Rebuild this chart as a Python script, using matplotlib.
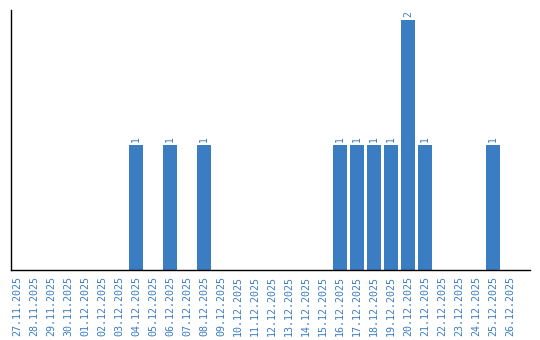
import matplotlib
matplotlib.use("Agg")
import matplotlib.pyplot as plt

dates = ["27.11.2025", "28.11.2025", "29.11.2025", "30.11.2025", "01.12.2025",
         "02.12.2025", "03.12.2025", "04.12.2025", "05.12.2025", "06.12.2025",
         "07.12.2025", "08.12.2025", "09.12.2025", "10.12.2025", "11.12.2025",
         "12.12.2025", "13.12.2025", "14.12.2025", "15.12.2025", "16.12.2025",
         "17.12.2025", "18.12.2025", "19.12.2025", "20.12.2025", "21.12.2025",
         "22.12.2025", "23.12.2025", "24.12.2025", "25.12.2025", "26.12.2025"]
values = [0, 0, 0, 0, 0, 0, 0, 1, 0, 1,
          0, 1, 0, 0, 0, 0, 0, 0, 0, 1,
          1, 1, 1, 2, 1, 0, 0, 0, 1, 0]

color = "#3a7dc2"
fig = plt.figure(figsize=(5.4, 3.4), dpi=100)
ax = fig.add_axes([0.0204, 0.2059, 0.9611, 0.7647])
x = list(range(len(dates)))
bars = ax.bar(x, values, width=0.82, color=color)
for xi, v in zip(x, values):
    if v > 0:
        ax.text(xi, v + 0.02, str(v), rotation=90, ha="center", va="bottom",
                color=color, fontsize=7, family="DejaVu Sans Mono")
ax.set_xlim(-0.35, 30.18)
ax.set_ylim(0, 2.08)
ax.set_xticks(x)
ax.set_xticklabels(dates, rotation=90, color=color, fontsize=7.2, family="DejaVu Sans Mono")
ax.tick_params(axis="x", length=0, pad=4)
ax.set_yticks([])
ax.spines["top"].set_visible(False)
ax.spines["right"].set_visible(False)
ax.spines["left"].set_linewidth(1.0)
ax.spines["bottom"].set_linewidth(1.0)
fig.savefig("out.png", dpi=100)
